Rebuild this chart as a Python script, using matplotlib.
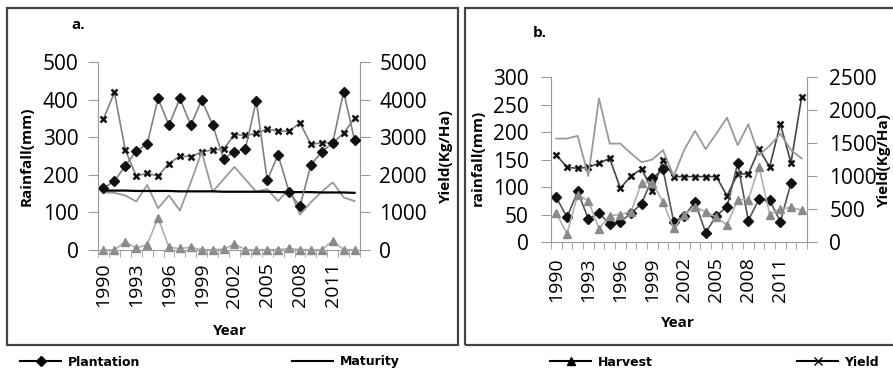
import numpy as np
import matplotlib.pyplot as plt
from matplotlib.lines import Line2D
from matplotlib.patches import Rectangle

years = list(range(1990, 2014))

# panel a
plant_a = [165, 183, 224, 263, 281, 403, 332, 403, 332, 399, 333, 243,
           261, 269, 397, 186, 253, 155, 116, 226, 261, 285, 421, 292]
matur_a = [153, 152, 145, 129, 173, 111, 145, 105, 180, 261, 155, 188,
           221, 188, 155, 162, 130, 164, 94, 127, 155, 180, 140, 130]
harv_a = [0, 0, 22, 5, 14, 86, 7, 4, 7, 1, 1, 2,
          16, 1, 1, 1, 1, 4, 1, 1, 1, 24, 1, 1]
trend_a = [158, 158, 158, 157, 157, 157, 157, 156, 156, 156, 156, 155,
           155, 155, 155, 155, 154, 154, 154, 154, 153, 153, 153, 152]
yield_a = [3480, 4190, 2660, 1970, 2040, 1970, 2300, 2500, 2480, 2610, 2660, 2680,
           3070, 3050, 3100, 3220, 3160, 3160, 3380, 2810, 2850, 2850, 3100, 3510]

# panel b
plant_b = [81, 45, 92, 42, 52, 33, 37, 52, 70, 116, 132, 37,
           47, 73, 17, 48, 64, 143, 39, 78, 76, 37, 107]
matur_b = [188, 188, 193, 120, 261, 179, 179, 161, 145, 150, 167, 120,
           168, 202, 169, 197, 226, 176, 214, 158, 175, 197, 167, 152]
harv_b = [52, 15, 86, 75, 24, 48, 50, 55, 108, 108, 73, 25,
          49, 64, 55, 45, 31, 77, 77, 137, 50, 60, 63, 58]
yield_b = [1318, 1132, 1117, 1132, 1193, 1268, 815, 1001, 1107, 779, 1242, 990,
           990, 990, 990, 990, 700, 1031, 1031, 1404, 1141, 1786, 1202, 2198]

W, H = 893, 368
fig = plt.figure(figsize=(W / 100, H / 100), dpi=100)
plt.rcParams['font.family'] = ['Open Sans', 'DejaVu Sans']

SP = '#999999'


def box(x0, y0, x1, y1):
    return [x0 / W, 1 - y1 / H, (x1 - x0) / W, (y1 - y0) / H]


def panel(b, ymax, ystep, y2max, y2step, pad):
    ax = fig.add_axes(box(*b))
    ax2 = ax.twinx()
    ax.set_xlim(-0.5, 23.5)
    ax.set_ylim(0, ymax)
    ax2.set_ylim(0, y2max)
    ax.set_yticks(np.arange(0, ymax + 1, ystep))
    ax2.set_yticks(np.arange(0, y2max + 1, y2step))
    ax.set_xticks(range(0, 24, 3))
    ax.set_xticklabels([str(y) for y in years[::3]], rotation=90, fontsize=14)
    ax.set_xticks(np.arange(-0.5, 24, 1), minor=True)
    ax.tick_params(axis='x', which='major', length=0, pad=pad)
    ax.tick_params(axis='x', which='minor', length=5, color=SP)
    ax.tick_params(axis='y', length=7, color=SP, labelsize=15, pad=pad - 2)
    ax2.tick_params(axis='y', length=7, color=SP, labelsize=15, pad=pad - 2)
    for a in (ax, ax2):
        a.spines['top'].set_visible(False)
        for s in a.spines.values():
            s.set_color(SP)
    ax.spines['right'].set_visible(False)
    ax2.spines['left'].set_visible(False)
    ax2.spines['bottom'].set_visible(False)
    ax.set_zorder(ax2.get_zorder() + 1)
    ax.patch.set_visible(False)
    return ax, ax2


x = np.arange(24)

# ---- panel a ----
ax, ax2 = panel((98, 62, 360, 250), 500, 100, 5000, 1000, 9)
ax.plot(x, matur_a, color='#9a9a9a', lw=1.3)
ax.plot(x, trend_a, color='black', lw=1.6)
ax.plot(x, plant_a, color='#808080', lw=1.2, marker='D', ms=5,
        mfc='#111111', mec='#111111')
ax.plot(x, harv_a, color='#b0b0b0', lw=1.2, marker='^', ms=5.5,
        mfc='#8a8a8a', mec='#8a8a8a', clip_on=False)
ax2.plot(x, yield_a, color='#808080', lw=1.2, marker='x', ms=5, mew=1.8,
         mec='#111111')

# ---- panel b ----
bx, bx2 = panel((551, 77, 807, 242), 300, 50, 2500, 500, 11)
bx.plot(x, matur_b, color='#9a9a9a', lw=1.3)
bx.plot(np.arange(len(plant_b)), plant_b, color='#555555', lw=1.2, marker='D',
        ms=5, mfc='#111111', mec='#111111')
bx.plot(x, harv_b, color='#b0b0b0', lw=1.2, marker='^', ms=5.5,
        mfc='#8a8a8a', mec='#8a8a8a')
bx2.plot(x, yield_b, color='#444444', lw=1.2, marker='x', ms=5, mew=1.8,
         mec='#111111')

# frames
for (x0, y0, x1, y1) in [(7, 8, 458, 345), (465, 8, 897, 345)]:
    fig.patches.append(Rectangle((x0 / W, 1 - y1 / H), (x1 - x0) / W, (y1 - y0) / H,
                                 transform=fig.transFigure, fill=False,
                                 ec='#444444', lw=1.6))

bold = dict(fontweight='bold', fontsize=11, ha='center', va='center')
fig.text(78 / W, 1 - 25 / H, 'a.', **bold)
fig.text(540 / W, 1 - 33 / H, 'b.', **bold)
fig.text(230 / W, 1 - 331 / H, 'Year', **bold)
fig.text(678 / W, 1 - 323 / H, 'Year', **bold)
fig.text(27 / W, 1 - 156 / H, 'Rainfall(mm)', rotation=90, **bold)
fig.text(446 / W, 1 - 156 / H, 'Yield(Kg/Ha)', rotation=90, **bold)
fig.text(478 / W, 1 - 158 / H, 'rainfall(mm)', rotation=90, **bold)
fig.text(884 / W, 1 - 160 / H, 'Yield(Kg/Ha)', rotation=90, **bold)

# legend row
items = [
    (20, 'Plantation', Line2D([], [], color='black', lw=1.5, marker='D', ms=5)),
    (292, 'Maturity', Line2D([], [], color='black', lw=1.5)),
    (550, 'Harvest', Line2D([], [], color='black', lw=1.5, marker='^', ms=6)),
    (797, 'Yield', Line2D([], [], color='black', lw=1.5, marker='x', ms=6, mew=1)),
]
for lx, name, h in items:
    fig.legend([h], [name], loc='center left', bbox_to_anchor=(lx / W, 1 - 362 / H),
               frameon=False, borderpad=0, borderaxespad=0, handlelength=3.3,
               handletextpad=0.5, prop=dict(family='DejaVu Sans', weight='bold', size=9))

fig.savefig('out.png', dpi=100)
